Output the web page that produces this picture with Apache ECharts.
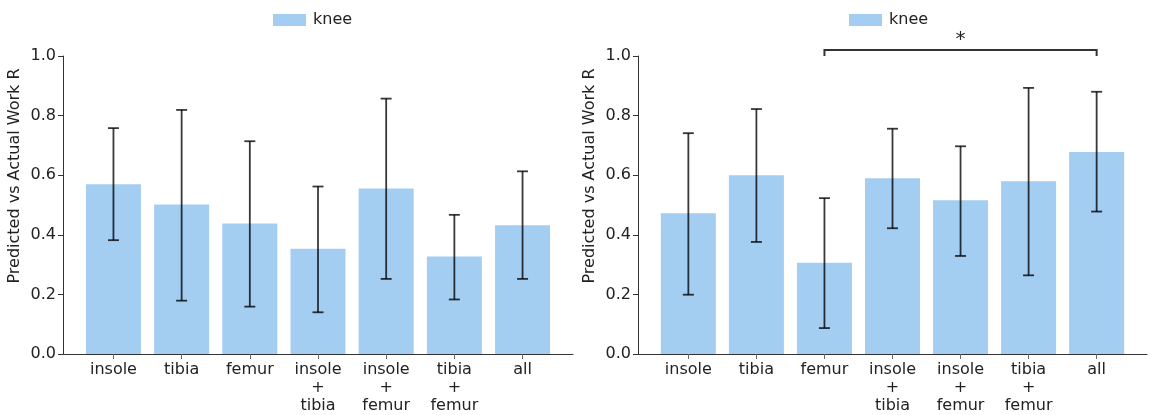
<!DOCTYPE html>
<html>
<head>
<meta charset="utf-8">
<script src="https://cdn.jsdelivr.net/npm/echarts@6/dist/echarts.min.js"></script>
<style>html,body{margin:0;background:#fff}#chart{width:1150px;height:415px}</style>
</head>
<body>
<div id="chart"></div>
<script>
// data
var categories = ['insole', 'tibia', 'femur', 'insole\n+\ntibia', 'insole\n+\nfemur', 'tibia\n+\nfemur', 'all'];
var leftMean = [0.570, 0.502, 0.438, 0.353, 0.555, 0.327, 0.432];
var leftLow = [0.382, 0.179, 0.159, 0.140, 0.252, 0.183, 0.252];
var leftHigh = [0.758, 0.819, 0.714, 0.562, 0.857, 0.467, 0.613];
var rightMean = [0.472, 0.600, 0.306, 0.590, 0.516, 0.580, 0.678];
var rightLow = [0.199, 0.376, 0.087, 0.422, 0.329, 0.264, 0.478];
var rightHigh = [0.741, 0.822, 0.523, 0.756, 0.697, 0.893, 0.880];
var yTicks = [0, 0.2, 0.4, 0.6, 0.8, 1.0];
var bracket = [2, 6, 1.02, '*'];   // from cat, to cat, height, mark

var font = 'DejaVu Sans';
var txt = '#222';
var barColor = '#a3cdf1';

function pairs(vals) {
  return vals.map(function (v, i) { return [i, v]; });
}
function errData(low, high) {
  return low.map(function (v, i) { return [i, v, high[i]]; });
}

function renderErr(params, api) {
  var top = api.coord([api.value(0), api.value(2)]);
  var bot = api.coord([api.value(0), api.value(1)]);
  var cap = 5.5;
  var st = { stroke: 'rgba(0,0,0,0.78)', lineWidth: 1.8 };
  return {
    type: 'group',
    children: [
      { type: 'line', shape: { x1: top[0], y1: top[1], x2: bot[0], y2: bot[1] }, style: st },
      { type: 'line', shape: { x1: top[0] - cap, y1: top[1], x2: top[0] + cap, y2: top[1] }, style: st },
      { type: 'line', shape: { x1: bot[0] - cap, y1: bot[1], x2: bot[0] + cap, y2: bot[1] }, style: st }
    ]
  };
}

function renderBracket(params, api) {
  var a = api.coord([api.value(0), api.value(2)]);
  var b = api.coord([api.value(1), api.value(2)]);
  var base = api.coord([api.value(0), 1.0]);
  var st = { stroke: '#333', lineWidth: 2, fill: null };
  return {
    type: 'group',
    children: [
      { type: 'polyline', shape: { points: [[a[0], base[1]], a, b, [b[0], base[1]]] }, style: st },
      { type: 'text', x: (a[0] + b[0]) / 2, y: a[1] - 10,
        style: { text: bracket[3], font: '20px ' + font, fill: txt, align: 'center', verticalAlign: 'middle' } }
    ]
  };
}

function xAxis(idx) {
  return {
    type: 'value', gridIndex: idx, min: -0.74, max: 6.74,
    splitLine: { show: false },
    axisLine: { show: true, onZero: false, lineStyle: { color: '#333', width: 1 } },
    axisTick: { show: true, length: 5, customValues: [0, 1, 2, 3, 4, 5, 6], lineStyle: { color: '#666' } },
    axisLabel: {
      customValues: [0, 1, 2, 3, 4, 5, 6],
      formatter: function (v) { return categories[Math.round(v)]; },
      fontFamily: font, fontSize: 16, color: txt, lineHeight: 18, margin: 7
    }
  };
}
function yAxis(idx) {
  return {
    type: 'value', gridIndex: idx, min: 0, max: 1, interval: 0.2,
    name: 'Predicted vs Actual Work R', nameLocation: 'middle', nameGap: 40,
    nameTextStyle: { fontFamily: font, fontSize: 16, color: txt, padding: [0, 0, 0, 58] },
    splitLine: { show: false },
    axisLine: { show: true, onZero: false, lineStyle: { color: '#333', width: 1 } },
    axisTick: { show: true, length: 5, lineStyle: { color: '#333' } },
    axisLabel: {
      fontFamily: font, fontSize: 16, color: txt, margin: 7,
      formatter: function (v) { return v.toFixed(1); }
    }
  };
}
function legend(left) {
  return {
    left: left, top: 7, itemWidth: 33, itemHeight: 12, icon: 'rect',
    data: ['knee'], selectedMode: false,
    textStyle: { fontFamily: font, fontSize: 16, color: txt, padding: [0, 0, 0, 2] }
  };
}

var chart = echarts.init(document.getElementById('chart'));
chart.setOption({
  animation: false,
  backgroundColor: '#fff',
  legend: [legend(268), legend(844)],
  grid: [
    { left: 63, top: 56, width: 510, height: 300 },
    { left: 638, top: 56, width: 509, height: 300 }
  ],
  xAxis: [xAxis(0), xAxis(1)],
  yAxis: [yAxis(0), yAxis(1)],
  series: [
    { name: 'knee', type: 'bar', xAxisIndex: 0, yAxisIndex: 0, barWidth: 55,
      itemStyle: { color: barColor }, data: pairs(leftMean) },
    { name: 'knee', type: 'bar', xAxisIndex: 1, yAxisIndex: 1, barWidth: 55,
      itemStyle: { color: barColor }, data: pairs(rightMean) },
    { type: 'custom', xAxisIndex: 0, yAxisIndex: 0, renderItem: renderErr, z: 5,
      data: errData(leftLow, leftHigh) },
    { type: 'custom', xAxisIndex: 1, yAxisIndex: 1, renderItem: renderErr, z: 5,
      data: errData(rightLow, rightHigh) },
    { type: 'custom', xAxisIndex: 1, yAxisIndex: 1, renderItem: renderBracket, z: 5, clip: false,
      data: [bracket.slice(0, 3)] }
  ]
});
</script>
</body>
</html>
